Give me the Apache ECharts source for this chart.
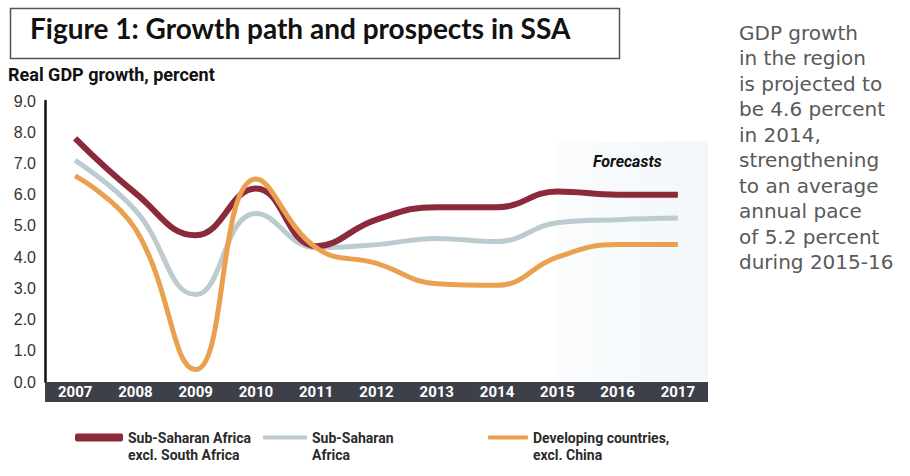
<!DOCTYPE html>
<html>
<head>
<meta charset="utf-8">
<script src="https://cdn.jsdelivr.net/npm/echarts@6/dist/echarts.min.js"></script>
<style>
  html, body { margin: 0; padding: 0; background: #fff; }
  #chart { width: 910px; height: 476px; }
</style>
</head>
<body>
<div id="chart"></div>
<script>
// data
const years = ['2007', '2008', '2009', '2010', '2011', '2012', '2013', '2014', '2015', '2016', '2017']
const ssaExSA = [7.8, 6.05, 4.7, 6.2, 4.35, 5.2, 5.6, 5.6, 6.1, 6.0, 6.0]
const ssa = [7.1, 5.5, 2.8, 5.4, 4.3, 4.4, 4.6, 4.5, 5.1, 5.2, 5.25]
const devExChina = [6.6, 4.9, 0.4, 6.5, 4.3, 3.8, 3.15, 3.1, 4.0, 4.4, 4.4]

const names = [
  'Sub-Saharan Africa\nexcl. South Africa',
  'Sub-Saharan\nAfrica',
  'Developing countries,\nexcl. China'
]
const colors = ['#8a2a3b', '#bccbd0', '#e9a04f']

const sideNote = [
  'GDP growth',
  'in the region',
  'is projected to',
  'be 4.6 percent',
  'in 2014,',
  'strengthening',
  'to an average',
  'annual pace',
  'of 5.2 percent',
  'during 2015-16'
]

const narrow = 'Roboto, "Liberation Sans", sans-serif'

const chart = echarts.init(document.getElementById('chart'), null, { renderer: 'svg' })

const legendBase = {
  top: 407,
  icon: 'roundRect',
  itemGap: 0,
  // leading blank line keeps the swatch level with the first text line
  formatter: n => '\u00a0\n' + n,
  textStyle: {
    fontFamily: narrow,
    fontWeight: 'bold',
    fontSize: 14,
    lineHeight: 17,
    color: '#2b2b2b'
  }
}

const option = {
  backgroundColor: '#ffffff',
  animation: false,
  grid: { left: 45, right: 202, top: 101, bottom: 94 },
  legend: [
    Object.assign({}, legendBase, { left: 70, itemWidth: 48, itemHeight: 8, data: [names[0]] }),
    Object.assign({}, legendBase, { left: 258, itemWidth: 44, itemHeight: 4, data: [names[1]] }),
    Object.assign({}, legendBase, { left: 483, itemWidth: 40, itemHeight: 4, data: [names[2]] })
  ],
  xAxis: {
    type: 'category',
    data: years,
    boundaryGap: true,
    offset: 10,
    axisLine: { onZero: false, lineStyle: { color: '#3e4049', width: 20, cap: 'butt' } },
    axisTick: { show: false },
    axisLabel: {
      color: '#ffffff',
      fontFamily: narrow,
      fontWeight: 'bold',
      fontSize: 15,
      margin: 0,
      verticalAlign: 'middle'
    }
  },
  yAxis: {
    type: 'value',
    min: 0,
    max: 9,
    interval: 1,
    splitLine: { show: false },
    axisTick: { show: false },
    axisLine: { show: true, lineStyle: { color: '#111', width: 2.5 } },
    axisLabel: {
      formatter: v => v.toFixed(1),
      color: '#333',
      fontFamily: '"Liberation Sans", sans-serif',
      fontSize: 16,
      margin: 9
    }
  },
  series: [
    {
      name: names[1],
      type: 'line',
      data: ssa,
      smooth: 0.45,
      symbol: 'none',
      color: colors[1],
      lineStyle: { width: 5, color: colors[1] },
      z: 2,
      markArea: {
        silent: true,
        z: 1,
        itemStyle: {
          color: new echarts.graphic.LinearGradient(0, 0, 1, 0, [
            { offset: 0, color: 'rgba(236,243,247,0.25)' },
            { offset: 1, color: 'rgba(236,243,247,0.7)' }
          ])
        },
        data: [[{ xAxis: '2015', yAxis: 7.7 }, { x: 708, y: 381 }]]
      }
    },
    {
      name: names[0],
      type: 'line',
      data: ssaExSA,
      smooth: 0.45,
      symbol: 'none',
      color: colors[0],
      lineStyle: { width: 6, color: colors[0] },
      z: 3
    },
    {
      name: names[2],
      type: 'line',
      data: devExChina,
      smooth: 0.45,
      symbol: 'none',
      color: colors[2],
      lineStyle: { width: 5, color: colors[2] },
      z: 4
    }
  ],
  graphic: [
    {
      type: 'rect',
      left: 8,
      top: 6,
      z: 100,
      shape: { width: 609, height: 50 },
      style: { fill: 'none', stroke: '#555', lineWidth: 1.5 }
    },
    {
      type: 'text',
      left: 30,
      top: 14,
      z: 100,
      style: {
        text: 'Figure 1: Growth path and prospects in SSA',
        font: 'bold 28px "Lato", "Liberation Sans", sans-serif',
        fill: '#111'
      }
    },
    {
      type: 'text',
      left: 8,
      top: 65,
      z: 100,
      style: {
        text: 'Real GDP growth, percent',
        font: 'bold 18px ' + narrow,
        fill: '#111'
      }
    },
    {
      type: 'text',
      left: 593,
      top: 153,
      z: 100,
      style: {
        text: 'Forecasts',
        font: 'italic bold 16px ' + narrow,
        fill: '#111'
      }
    },
    {
      type: 'text',
      left: 739,
      top: 20,
      z: 100,
      style: {
        text: sideNote.join('\n'),
        font: '20px "DejaVu Sans", sans-serif',
        lineHeight: 25.5,
        fill: '#595959'
      }
    }
  ]
}

chart.setOption(option)
</script>
</body>
</html>
